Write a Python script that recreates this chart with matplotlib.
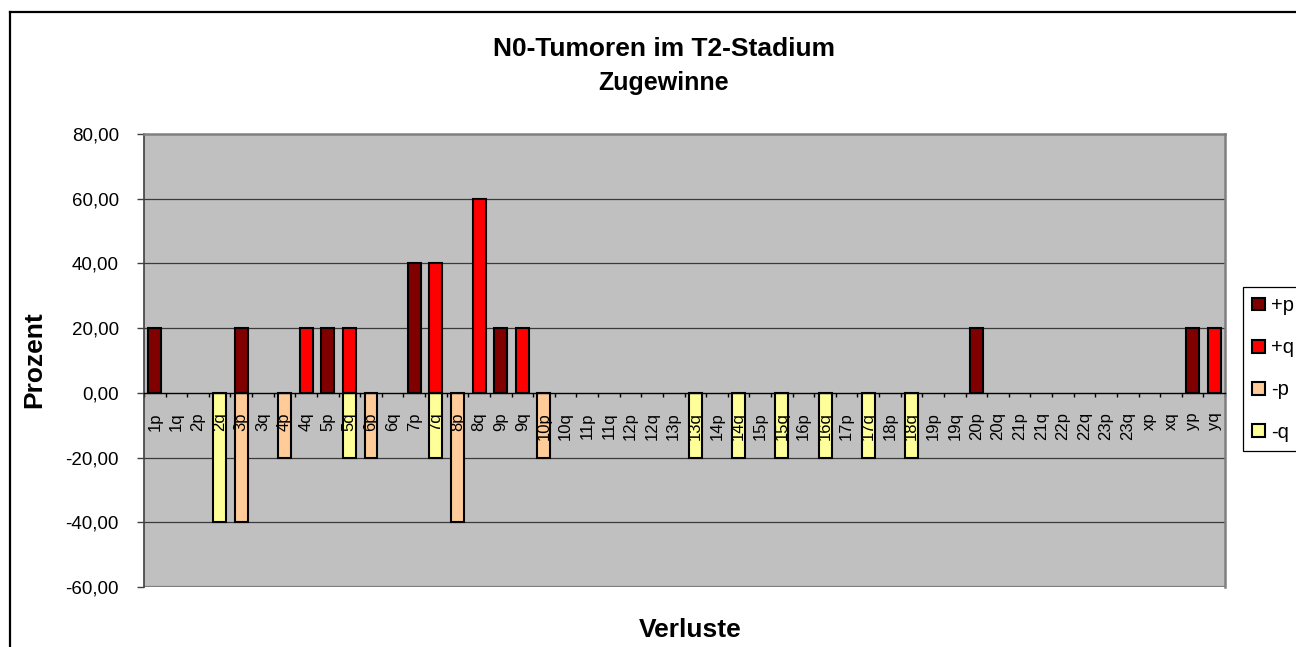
import numpy as np
import matplotlib.pyplot as plt
from matplotlib.lines import Line2D

plt.rcParams['font.family'] = ['Liberation Sans', 'DejaVu Sans']

# Chromosomenarme
categories = ['1p', '1q', '2p', '2q', '3p', '3q', '4p', '4q', '5p', '5q',
              '6p', '6q', '7p', '7q', '8p', '8q', '9p', '9q', '10p', '10q',
              '11p', '11q', '12p', '12q', '13p', '13q', '14p', '14q', '15p', '15q',
              '16p', '16q', '17p', '17q', '18p', '18q', '19p', '19q', '20p', '20q',
              '21p', '21q', '22p', '22q', '23p', '23q', 'xp', 'xq', 'yp', 'yq']

# Prozentwerte je Serie
gain_p = [20, 0, 0, 0, 20, 0, 0, 0, 20, 0,
          0, 0, 40, 0, 0, 0, 20, 0, 0, 0,
          0, 0, 0, 0, 0, 0, 0, 0, 0, 0,
          0, 0, 0, 0, 0, 0, 0, 0, 20, 0,
          0, 0, 0, 0, 0, 0, 0, 0, 20, 0]
gain_q = [0, 0, 0, 0, 0, 0, 0, 20, 0, 20,
          0, 0, 0, 40, 0, 60, 0, 20, 0, 0,
          0, 0, 0, 0, 0, 0, 0, 0, 0, 0,
          0, 0, 0, 0, 0, 0, 0, 0, 0, 0,
          0, 0, 0, 0, 0, 0, 0, 0, 0, 20]
loss_p = [0, 0, 0, 0, -40, 0, -20, 0, 0, 0,
          -20, 0, 0, 0, -40, 0, 0, 0, -20, 0,
          0, 0, 0, 0, 0, 0, 0, 0, 0, 0,
          0, 0, 0, 0, 0, 0, 0, 0, 0, 0,
          0, 0, 0, 0, 0, 0, 0, 0, 0, 0]
loss_q = [0, 0, 0, -40, 0, 0, 0, 0, 0, -20,
          0, 0, 0, -20, 0, 0, 0, 0, 0, 0,
          0, 0, 0, 0, 0, -20, 0, -20, 0, -20,
          0, -20, 0, -20, 0, -20, 0, 0, 0, 0,
          0, 0, 0, 0, 0, 0, 0, 0, 0, 0]

series_names = ['+p', '+q', '-p', '-q']
series_colors = ['#800000', '#FF0000', '#FFCC99', '#FFFF99']
yticks = [-60, -40, -20, 0, 20, 40, 60, 80]

W, H = 1296, 647
fig = plt.figure(figsize=(W / 100, H / 100), dpi=100)
ax = fig.add_axes([144 / W, 60 / H, 1081 / W, 453 / H])
ax.set_facecolor('#C0C0C0')

# Gitterlinien hinter den Balken
for yv in yticks[1:-1]:
    if yv != 0:
        ax.axhline(yv, color='#3a3a3a', lw=0.9, zorder=0.5)
ax.axhline(-60, color='#808080', lw=1.6, zorder=0.6)

for vals, col, name in zip([gain_p, gain_q, loss_p, loss_q], series_colors, series_names):
    idx = [i for i, v in enumerate(vals) if v != 0]
    ax.bar(idx, [vals[i] for i in idx], width=0.6, color=col,
           edgecolor='black', linewidth=1.5, label=name, zorder=1)

ax.set_xlim(-0.5, len(categories) - 0.5)
ax.set_ylim(-60, 80)

ax.spines['bottom'].set_position(('data', 0))
ax.spines['bottom'].set_color('black')
ax.spines['bottom'].set_linewidth(1.0)
ax.spines['left'].set_color('#404040')
ax.spines['left'].set_linewidth(1.2)
for s in ['top', 'right']:
    ax.spines[s].set_color('#808080')
    ax.spines[s].set_linewidth(1.8)

ax.set_xticks(np.arange(len(categories)))
ax.set_xticklabels(categories, rotation=90, fontsize=12)
ax.set_xticks(np.arange(-0.5, len(categories), 1), minor=True)
ax.tick_params(axis='x', which='major', length=0, pad=14)
ax.tick_params(axis='x', which='minor', length=3, width=1, direction='out', color='black')

ax.set_yticks(yticks)
ax.set_yticklabels([f'{v:.2f}'.replace('.', ',') for v in yticks], fontsize=13.5)
ax.tick_params(axis='y', length=5, width=1, pad=13, direction='out', color='#404040')

# Titel und Achsentitel
fig.text(664 / W, 1 - 56 / H, 'N0-Tumoren im T2-Stadium', ha='center', va='baseline',
         fontsize=19, fontweight='bold')
fig.text(664 / W, 1 - 90 / H, 'Zugewinne', ha='center', va='baseline',
         fontsize=18, fontweight='bold')
fig.text(690 / W, 1 - 637 / H, 'Verluste', ha='center', va='baseline',
         fontsize=19, fontweight='bold')
fig.text(34 / W, 1 - 360 / H, 'Prozent', ha='center', va='center', rotation=90,
         fontsize=19, fontweight='bold')

# Diagrammrahmen
fig.add_artist(Line2D([10 / W, 10 / W], [-0.1, 1 - 12 / H], transform=fig.transFigure,
                      color='black', lw=1.6))
fig.add_artist(Line2D([10 / W, 1.1], [1 - 12 / H, 1 - 12 / H], transform=fig.transFigure,
                      color='black', lw=1.6))

leg = fig.legend(loc='upper left', bbox_to_anchor=(1243 / W, 1 - 287 / H),
                 frameon=True, fancybox=False, edgecolor='black', framealpha=1,
                 fontsize=14.5, handlelength=0.65, handleheight=0.6,
                 handletextpad=0.3, labelspacing=1.15, borderpad=0.45,
                 borderaxespad=0)
leg.get_frame().set_linewidth(0.9)

fig.savefig('out.png', dpi=100, facecolor='white')
